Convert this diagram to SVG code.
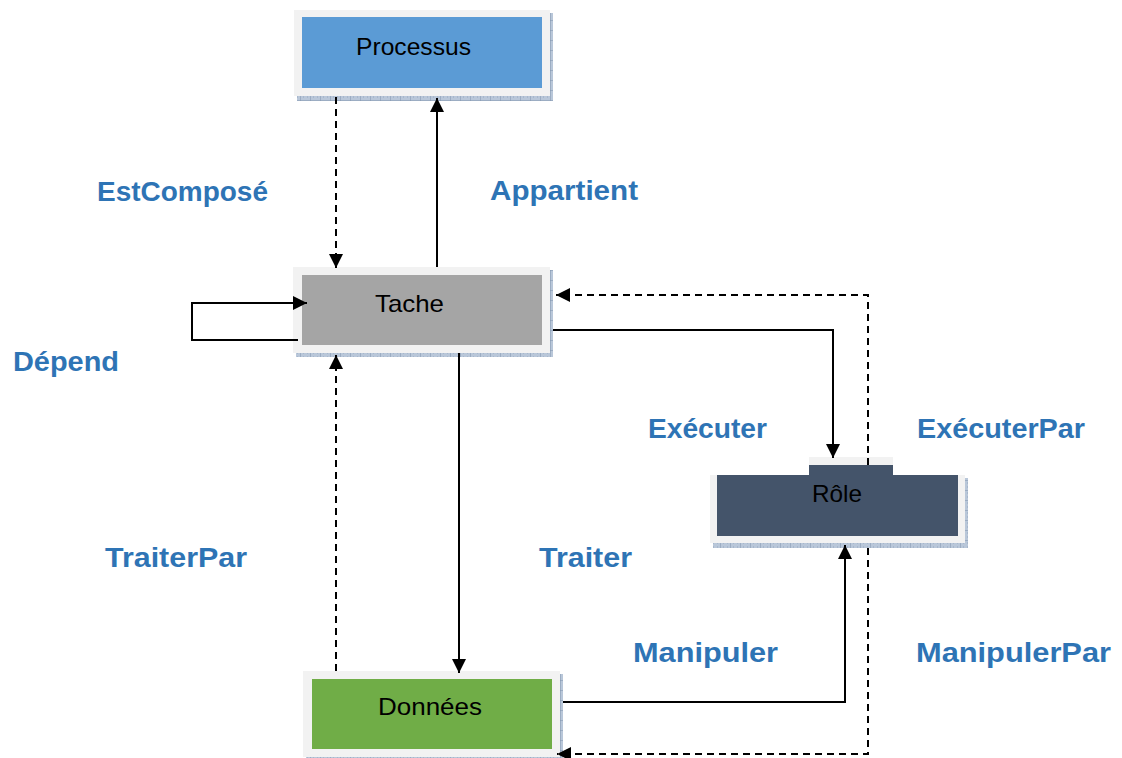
<svg xmlns="http://www.w3.org/2000/svg" width="1122" height="758" viewBox="0 0 1122 758">
<style>
.frame{fill:#F2F2F2}
.shadow{fill:url(#hatch)}
.ntext{font-family:"Liberation Sans",Arial,sans-serif;font-size:24px;fill:#000;text-anchor:start}
.lbl{font-family:"Liberation Sans",Arial,sans-serif;font-size:28px;font-weight:bold;fill:#2E74B5}
.solid{fill:none;stroke:#000;stroke-width:2;marker-end:url(#arr)}
.dash{fill:none;stroke:#000;stroke-width:2;stroke-dasharray:7,5;marker-end:url(#arr)}
</style>
<defs>
<pattern id="hatch" width="10" height="10" patternUnits="userSpaceOnUse">
<rect width="10" height="10" fill="#B9C7D9"/>
<path d="M0,0 H10 M0,0 V10" stroke="#7F93AE" stroke-width="1"/>
<path d="M3,3 h1 M7,7 h1 M7,3 h1 M3,7 h1" stroke="#95A7BF" stroke-width="1"/>
</pattern>
<marker id="arr" markerWidth="16" markerHeight="16" refX="14" refY="7" orient="auto" markerUnits="userSpaceOnUse">
<path d="M0,0 L14,7 L0,14 z" fill="#000"/>
</marker>
</defs>
<rect width="1122" height="758" fill="#FFFFFF"/>

<g id="processus">
<rect class="shadow" x="297" y="13" width="256" height="88"/>
<rect class="frame" x="294" y="10" width="256" height="86"/>
<rect x="302" y="17" width="240" height="71" fill="#5B9BD5"/>
<text class="ntext" x="356" y="55" textLength="115" lengthAdjust="spacingAndGlyphs">Processus</text>
</g>

<g id="tache">
<rect class="shadow" x="296" y="270" width="257" height="87"/>
<rect class="frame" x="293" y="267" width="257" height="86"/>
<rect x="302" y="275" width="240" height="70" fill="#A5A5A5"/>
<text class="ntext" x="375" y="312" textLength="69" lengthAdjust="spacingAndGlyphs">Tache</text>
</g>

<g id="role">
<rect class="shadow" x="713" y="478" width="255" height="70"/>
<rect class="frame" x="710" y="475" width="255" height="68"/>
<rect class="frame" x="809" y="457" width="84" height="18"/>
<rect x="717" y="475" width="241" height="61" fill="#44546A"/>
<rect x="809" y="465" width="84" height="11" fill="#44546A"/>
<text class="ntext" x="812" y="502" textLength="50" lengthAdjust="spacingAndGlyphs">Rôle</text>
</g>

<g id="donnees">
<rect class="shadow" x="306" y="674" width="257" height="84"/>
<rect class="frame" x="303" y="671" width="257" height="86"/>
<rect x="312" y="679" width="240" height="70" fill="#70AD47"/>
<text class="ntext" x="378" y="715" textLength="104" lengthAdjust="spacingAndGlyphs">Données</text>
</g>

<g id="connectors">
<path class="dash" d="M336,97 V268"/>
<path class="solid" d="M437,267 V98"/>
<path class="solid" d="M298,340 H192 V303 H307"/>
<path class="solid" d="M553,330 H833 V458"/>
<path class="dash" d="M868,465 V295 H556"/>
<path class="solid" d="M459,353 V673"/>
<path class="dash" d="M336,671 V355"/>
<path class="solid" d="M563,702 H845 V545"/>
<path class="dash" d="M868,548 V754 H557"/>
</g>

<g id="labels">
<text class="lbl" x="97" y="201" textLength="171" lengthAdjust="spacingAndGlyphs">EstComposé</text>
<text class="lbl" x="490" y="200" textLength="148" lengthAdjust="spacingAndGlyphs">Appartient</text>
<text class="lbl" x="13" y="371" textLength="106" lengthAdjust="spacingAndGlyphs">Dépend</text>
<text class="lbl" x="648" y="438" textLength="119" lengthAdjust="spacingAndGlyphs">Exécuter</text>
<text class="lbl" x="917" y="438" textLength="168" lengthAdjust="spacingAndGlyphs">ExécuterPar</text>
<text class="lbl" x="105" y="567" textLength="142" lengthAdjust="spacingAndGlyphs">TraiterPar</text>
<text class="lbl" x="539" y="567" textLength="93" lengthAdjust="spacingAndGlyphs">Traiter</text>
<text class="lbl" x="633" y="662" textLength="145" lengthAdjust="spacingAndGlyphs">Manipuler</text>
<text class="lbl" x="916" y="662" textLength="195" lengthAdjust="spacingAndGlyphs">ManipulerPar</text>
</g>
</svg>
